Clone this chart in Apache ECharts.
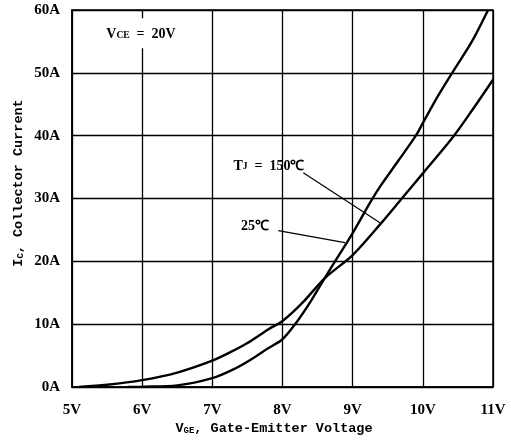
<!DOCTYPE html>
<html>
<head>
<meta charset="utf-8">
<script src="https://cdn.jsdelivr.net/npm/echarts@6/dist/echarts.min.js"></script>
<style>html,body{margin:0;padding:0;background:#fff;}#c{width:511px;height:447px;}</style>
</head>
<body>
<div id="c"></div>
<script>
// 25°C curve (steep)
const vge25 = [5.8, 6.0, 6.5, 7.0, 7.3, 7.54, 7.8, 8.0, 8.18, 8.4, 8.6, 8.8, 9.0, 9.25, 9.39, 9.65, 9.9, 10.0, 10.2, 10.43, 10.7, 10.93];
const ic25  = [0, 0.05, 0.25, 1.4, 2.8, 4.3, 6.2, 7.6, 10, 13.6, 17.3, 20.9, 24.5, 29.4, 31.9, 36, 40, 42, 46, 50.2, 55, 60];
// 150°C curve (shallow)
const vge150 = [5.1, 5.5, 6.0, 6.5, 7.0, 7.25, 7.5, 7.8, 8.0, 8.3, 8.6, 9.0, 9.4, 9.7, 10.0, 10.43, 10.7, 11.0];
const ic150  = [0, 0.35, 1.1, 2.3, 4.2, 5.5, 7.0, 9.2, 10.5, 13.6, 17.3, 21, 26, 30, 34, 39.8, 44, 48.9];
// annotation anchors (data space)
const lead150 = [[8.296, 34.1], [9.389, 26.15]];
const lead25  = [[7.94, 24.9], [8.89, 22.97]];
const lbl150 = [7.807, 35.33];
const lbl25  = [7.608, 25.5];
const lblVce = [5.983, 56.3];

const pair = (xs, ys) => xs.map((x, i) => [x, ys[i]]);
const serifB = { fontFamily: 'Liberation Serif', fontWeight: 'bold', color: '#000' };

const chart = echarts.init(document.getElementById('c'));
chart.setOption({
  animation: false,
  backgroundColor: '#fff',
  grid: { left: 72, right: 18, top: 10, bottom: 60, show: true, borderColor: '#000', borderWidth: 1.5 },
  xAxis: {
    type: 'value', min: 5, max: 11, interval: 1,
    axisLine: { show: true, lineStyle: { color: '#000', width: 1.5 } },
    axisTick: { show: false },
    splitLine: { show: true, lineStyle: { color: '#000', width: 1.3 } },
    axisLabel: { formatter: '{value}V', margin: 16, fontSize: 15, ...serifB }
  },
  yAxis: {
    type: 'value', min: 0, max: 60, interval: 10,
    axisLine: { show: true, lineStyle: { color: '#000', width: 1.5 } },
    axisTick: { show: false },
    splitLine: { show: true, lineStyle: { color: '#000', width: 1.3 } },
    axisLabel: { formatter: '{value}A', margin: 12, fontSize: 15, ...serifB }
  },
  graphic: [
    {
      type: 'text', x: 274, y: 428,
      style: {
        text: '{b|V}{s|GE}{b|, Gate-Emitter Voltage}',
        align: 'center', verticalAlign: 'middle',
        rich: {
          b: { fontFamily: 'Liberation Mono', fontWeight: 'bold', fontSize: 13.5, fill: '#000', lineHeight: 16, verticalAlign: 'bottom' },
          s: { fontFamily: 'Liberation Mono', fontWeight: 'bold', fontSize: 9, fill: '#000', lineHeight: 16, verticalAlign: 'bottom', padding: [0, 0, 1, 0] }
        }
      }
    },
    {
      type: 'text', x: 18, y: 183, rotation: Math.PI / 2,
      style: {
        text: '{b|I}{s|C}{b|, Collector Current}',
        align: 'center', verticalAlign: 'middle',
        rich: {
          b: { fontFamily: 'Liberation Mono', fontWeight: 'bold', fontSize: 13.5, fill: '#000', lineHeight: 16, verticalAlign: 'bottom' },
          s: { fontFamily: 'Liberation Mono', fontWeight: 'bold', fontSize: 9, fill: '#000', lineHeight: 16, verticalAlign: 'bottom', padding: [0, 0, 1, 0] }
        }
      }
    }
  ],
  series: [
    {
      name: '25℃', type: 'line', data: pair(vge25, ic25), smooth: 0.3, symbol: 'none',
      lineStyle: { color: '#000', width: 2.4 }, z: 5,
      markLine: {
        silent: true, symbol: 'none', label: { show: false },
        lineStyle: { color: '#000', width: 1.2, type: 'solid' },
        data: [
          [{ coord: lead25[0] }, { coord: lead25[1] }],
          [{ coord: lead150[0] }, { coord: lead150[1] }]
        ]
      },
      markPoint: {
        silent: true, symbol: 'rect', symbolSize: 0,
        data: [
          {
            coord: lbl25,
            label: { show: true, position: 'inside', formatter: '25℃', fontSize: 14, ...serifB }
          },
          {
            coord: lbl150,
            label: {
              show: true, position: 'inside', formatter: '{b|T}{s|J}{b|  =  150℃}',
              rich: {
                b: { fontSize: 14, ...serifB, lineHeight: 16, verticalAlign: 'bottom' },
                s: { fontSize: 9.5, ...serifB, lineHeight: 16, verticalAlign: 'bottom', padding: [0, 0, 1, 0] }
              }
            }
          },
          {
            coord: lblVce,
            label: {
              show: true, position: 'inside', formatter: '{b|V}{s|CE}{b|  =  20V}',
              backgroundColor: '#fff', padding: [7, 4, 7, 4],
              rich: {
                b: { fontSize: 14, ...serifB, lineHeight: 16, verticalAlign: 'bottom' },
                s: { fontSize: 9.5, ...serifB, lineHeight: 16, verticalAlign: 'bottom', padding: [0, 0, 1, 0] }
              }
            }
          }
        ]
      }
    },
    {
      name: '150℃', type: 'line', data: pair(vge150, ic150), smooth: 0.3, symbol: 'none',
      lineStyle: { color: '#000', width: 2.4 }, z: 5
    }
  ]
});
</script>
</body>
</html>
